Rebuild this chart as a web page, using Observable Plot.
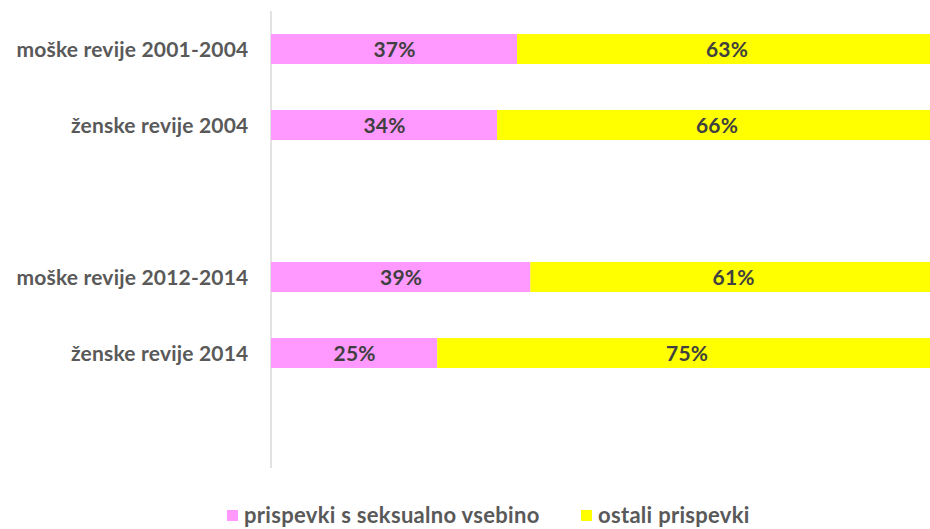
<!DOCTYPE html>
<html>
<head>
<meta charset="utf-8">
<script src="https://cdn.jsdelivr.net/npm/d3@7"></script>
<script src="https://cdn.jsdelivr.net/npm/@observablehq/plot@0.6"></script>
<style>
  html, body { margin: 0; padding: 0; background: #fff; overflow: hidden; width: 930px; height: 529px; }
  #chart { width: 930px; overflow: hidden; }
  #chart svg { display: block; overflow: hidden; max-width: none !important; width: 936px !important; height: 472px !important; }
  #legend { position: absolute; top: 502px; left: 0; width: 930px; height: 26px; font-family: Lato, "Open Sans", sans-serif; font-weight: 700; font-size: 22px; letter-spacing: 0.3px; color: #595959; }
  .item { position: absolute; top: 0; height: 26px; line-height: 26px; display: flex; align-items: center; }
  .sw { width: 11px; height: 11px; margin-right: 6px; }
</style>
</head>
<body>
<div id="chart"></div>
<div id="legend"></div>
<script>
const categories = ["moške revije 2001-2004", "ženske revije 2004", "", "moške revije 2012-2014", "ženske revije 2014", " "];
const seriesNames = ["prispevki s seksualno vsebino", "ostali prispevki"];
const seriesColors = ["#FF99FF", "#FFFF00"];
const sexualValues = [37, 34, null, 39, 25, null];
const otherValues = [63, 66, null, 61, 75, null];

const data = [];
categories.forEach((c, i) => {
  if (sexualValues[i] != null) data.push({category: c, series: seriesNames[0], value: sexualValues[i]});
  if (otherValues[i] != null) data.push({category: c, series: seriesNames[1], value: otherValues[i]});
});

const plot = Plot.plot({
  width: 936,
  height: 472,
  marginLeft: 271,
  marginRight: 0,
  marginTop: 11,
  marginBottom: 4,
  style: {fontFamily: "Lato, 'Open Sans', sans-serif", fontSize: "21px", fontWeight: 700, letterSpacing: "0.2px", color: "#595959", background: "#fff"},
  x: {domain: [0, 100], axis: null},
  y: {domain: categories, paddingInner: 0.6, paddingOuter: 0.3, label: null, axis: null},
  color: {domain: seriesNames, range: seriesColors},
  marks: [
    Plot.ruleX([0], {stroke: "#d9d9d9", strokeWidth: 1.5, dx: -0.5}),
    Plot.barX(data, Plot.stackX({x: "value", y: "category", fill: "series", z: "series", order: seriesNames})),
    Plot.text(data, Plot.stackX({x: "value", y: "category", z: "series", order: seriesNames, text: d => d.value + "%", fill: "#404040", fontSize: 21, fontWeight: 700, dy: 1})),
    Plot.axisY({tickSize: 0, tickPadding: 23, fill: "#595959", fontSize: 21, fontWeight: 700, label: null, dy: 1})
  ]
});
document.getElementById("chart").appendChild(plot);

const legend = document.getElementById("legend");
const lefts = [227, 581];
seriesNames.forEach((s, i) => {
  const item = document.createElement("div");
  item.className = "item";
  item.style.left = lefts[i] + "px";
  const sw = document.createElement("div");
  sw.className = "sw";
  sw.style.background = seriesColors[i];
  const t = document.createElement("span");
  t.textContent = s;
  item.appendChild(sw);
  item.appendChild(t);
  legend.appendChild(item);
});
</script>
</body>
</html>
